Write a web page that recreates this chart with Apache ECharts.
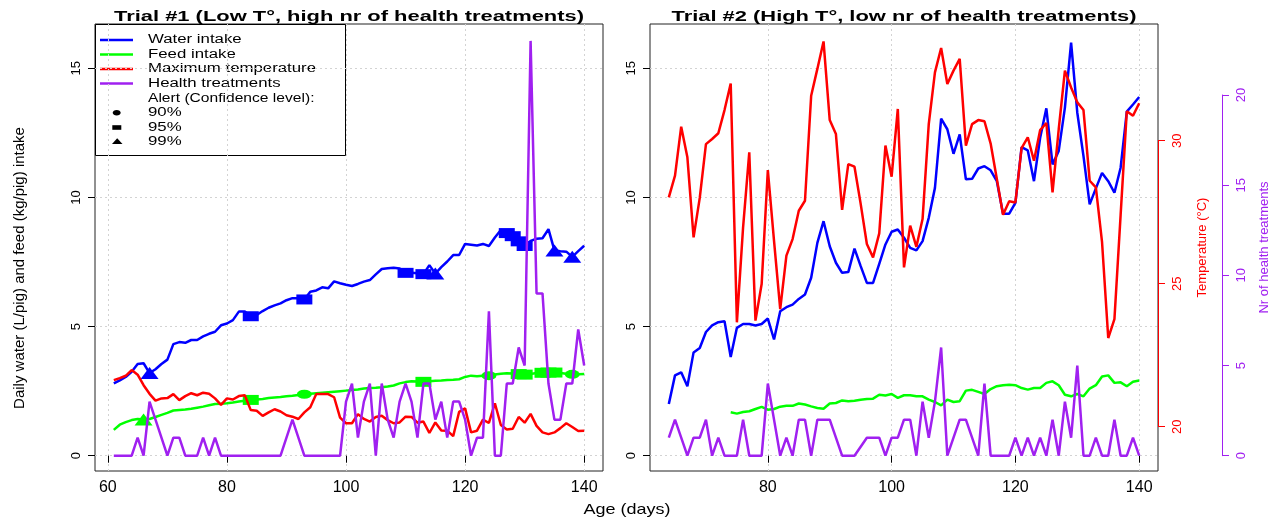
<!DOCTYPE html>
<html>
<head>
<meta charset="utf-8">
<script src="https://cdn.jsdelivr.net/npm/echarts@6/dist/echarts.min.js"></script>
<style>
html,body{margin:0;padding:0;background:#fff;}
#chart{width:1278px;height:521px;}
</style>
</head>
<body>
<div id="chart"></div>
<script>
// ---------------- DATA ----------------
const daysT1 = [61,62,63,64,65,66,67,68,69,70,
  71,72,73,74,75,76,77,78,79,80,
  81,82,83,84,85,86,87,88,89,90,
  91,92,93,94,95,96,97,98,99,100,
  101,102,103,104,105,106,107,108,109,110,
  111,112,113,114,115,116,117,118,119,120,
  121,122,123,124,125,126,127,128,129,130,
  131,132,133,134,135,136,137,138,139,140];

const waterT1 = [2.80,2.92,3.05,3.25,3.55,3.58,3.20,3.35,3.55,3.72,
  4.32,4.40,4.37,4.48,4.48,4.62,4.72,4.80,5.05,5.12,
  5.25,5.58,5.58,5.40,5.45,5.60,5.73,5.82,5.90,6.02,
  6.10,6.10,6.05,6.35,6.40,6.52,6.48,6.75,6.68,6.62,
  6.57,6.65,6.74,6.80,7.02,7.23,7.26,7.28,7.25,7.08,
  7.08,7.06,7.03,7.38,7.05,7.30,7.52,7.77,7.77,8.20,
  8.17,8.14,8.20,8.12,8.45,8.74,8.62,8.50,8.30,8.12,
  8.32,8.40,8.42,8.77,7.95,7.92,7.90,7.70,7.92,8.13];

const feedT1 = [1.00,1.20,1.30,1.38,1.42,1.40,1.42,1.50,1.58,1.66,
  1.75,1.77,1.79,1.82,1.86,1.90,1.95,2.00,2.01,2.03,
  2.06,2.10,2.13,2.16,2.18,2.20,2.23,2.25,2.27,2.30,
  2.32,2.35,2.38,2.40,2.42,2.44,2.46,2.48,2.50,2.52,
  2.54,2.56,2.60,2.62,2.63,2.65,2.68,2.72,2.80,2.85,
  2.88,2.87,2.86,2.88,2.90,2.91,2.93,2.94,2.96,3.05,
  3.10,3.08,3.10,3.10,3.14,3.17,3.19,3.18,3.16,3.14,
  3.16,3.20,3.21,3.22,3.22,3.20,3.17,3.15,3.15,3.16];

const tempT1 = [21.63,21.70,21.78,21.98,21.82,21.45,21.15,20.91,20.99,21.00,
  21.14,20.93,21.07,21.17,21.10,21.19,21.15,20.99,20.76,20.99,
  20.95,21.07,21.10,20.58,20.56,20.38,20.50,20.61,20.53,20.40,
  20.35,20.27,20.50,20.68,21.14,21.14,21.14,21.03,20.32,20.12,
  20.12,20.44,20.27,20.18,20.34,20.38,20.23,20.12,20.15,20.35,
  20.34,20.14,20.18,19.78,20.15,19.87,19.86,19.67,20.52,20.64,
  19.80,19.86,20.25,20.13,20.82,20.06,19.90,19.93,20.34,20.14,
  20.45,20.03,19.80,19.74,19.80,19.95,20.12,19.99,19.85,19.86];

const healthT1 = [0,0,0,0,1,0,3,2,1,0,
  1,1,0,0,0,1,0,1,0,0,
  0,0,0,0,0,0,0,0,0,1,
  2,1,0,0,0,0,0,0,0,3,
  4,1,3,4,0,4,2,1,3,4,
  3,1,4,4,2,3,1,3,3,2,
  0,1,1,8,0,0,4,4,6,5,
  23,9,9,4,2,2,4,4,7,5];

// Alert days (confidence level) for trial #1
const waterAlert95 = [84,93,110,113,127,128,129,130];
const waterAlert99 = [67,115,135,138];
const feedAlert90 = [93,124,138];
const feedAlert95 = [84,113,129,130,133,134,135];
const feedAlert99 = [66];

const daysT2 = [64,65,66,67,68,69,70,
  71,72,73,74,75,76,77,78,79,80,
  81,82,83,84,85,86,87,88,89,90,
  91,92,93,94,95,96,97,98,99,100,
  101,102,103,104,105,106,107,108,109,110,
  111,112,113,114,115,116,117,118,119,120,
  121,122,123,124,125,126,127,128,129,130,
  131,132,133,134,135,136,137,138,139,140];

const waterT2 = [2.00,3.11,3.23,2.69,4.00,4.17,4.79,
  5.05,5.17,5.21,3.82,4.95,5.10,5.10,5.04,5.10,5.31,
  4.50,5.59,5.75,5.85,6.07,6.24,6.89,8.24,9.08,8.11,
  7.47,7.08,7.11,8.02,7.34,6.69,6.69,7.43,8.18,8.67,
  8.76,8.44,8.05,7.95,8.31,9.21,10.37,13.05,12.64,11.69,
  12.44,10.70,10.72,11.12,11.21,11.05,10.63,9.37,9.37,9.79,
  11.95,11.82,10.63,12.31,13.45,11.28,11.80,13.48,15.99,13.28,
  11.60,9.73,10.35,10.95,10.63,10.18,11.15,13.32,13.60,13.89];

const feedT2 = [null,null,null,null,null,null,null,
  null,null,null,1.68,1.63,1.69,1.72,1.81,1.89,1.78,
  1.81,1.90,1.93,1.93,2.02,1.98,1.91,1.85,1.82,2.02,
  2.04,2.14,2.11,2.13,2.17,2.20,2.21,2.36,2.33,2.39,
  2.24,2.34,2.34,2.30,2.30,2.17,2.08,1.95,2.17,2.08,
  2.11,2.52,2.55,2.47,2.39,2.58,2.69,2.73,2.75,2.73,
  2.62,2.56,2.62,2.62,2.82,2.88,2.73,2.36,2.30,2.39,
  2.30,2.60,2.73,3.07,3.11,2.82,2.84,2.69,2.86,2.91];

const tempT2 = [28.02,28.78,30.49,29.42,26.62,28.00,29.88,
  30.06,30.26,31.07,32.00,23.65,26.97,29.59,23.71,24.99,28.97,
  26.50,24.11,25.98,26.56,27.55,27.90,31.57,32.51,33.47,30.72,
  30.23,27.58,29.18,29.09,27.79,26.39,25.92,26.76,29.83,28.74,
  31.11,25.57,27.03,26.29,27.26,30.58,32.39,33.24,31.98,32.45,
  32.86,29.83,30.58,30.72,30.68,29.90,28.66,27.41,27.88,27.84,
  29.74,30.12,29.30,30.37,30.62,28.19,30.40,32.45,31.86,31.34,
  31.07,28.60,28.37,26.45,23.10,23.76,27.40,31.03,30.87,31.31];

const healthT2 = [1,2,1,0,1,1,2,
  0,1,0,0,0,2,0,0,0,4,
  2,0,1,0,2,2,0,2,2,2,
  1,0,0,0,0.5,1,1,1,0,1,
  1,2,2,0,3,1,3,6,0,1,
  2,2,1,0,4,0,0,0,0,1,
  0,1,0,1,0,2,0,3,1,5,
  0,0,1,0,0,2,0,0,1,0];

const xTicksT1 = [60,80,100,120,140];
const xTicksT2 = [80,100,120,140];
const yTicksIntake = [0,5,10,15];

const titles = ['Trial #1 (Low T\u00b0, high nr of health treatments)',
                'Trial #2 (High T\u00b0, low nr of health treatments)'];
const legendLines = ['Water intake','Feed intake','Maximum temperature','Health treatments'];
const legendAlert = ['Alert (Confidence level):','90%','95%','99%'];

// ---------------- STYLE ----------------
const FONT = '"Liberation Sans", Arial, Helvetica, sans-serif';
const C_WATER = '#0000ff', C_FEED = '#00ff00', C_TEMP = '#ff0000', C_HEALTH = '#a020f0';
const LW = 2.5;

function pairs(days, vals){ return days.map((d,i)=>[d, vals[i]]); }
function alertPts(days, vals, alertDays){ return alertDays.map(d=>[d, vals[days.indexOf(d)]]); }

function lineSeries(name, xi, yi, days, vals, color){
  return {name, type:'line', xAxisIndex:xi, yAxisIndex:yi, data:pairs(days, vals),
    symbol:'none', showSymbol:false, connectNulls:false,
    lineStyle:{color, width:LW}, itemStyle:{color}, silent:true};
}
function markerSeries(name, days, vals, alertDays, symbol, size, color){
  return {name, type:'scatter', xAxisIndex:0, yAxisIndex:0,
    data:alertPts(days, vals, alertDays), symbol, symbolSize:size,
    itemStyle:{color, opacity:1}, silent:true};
}

const gridLine = {show:true, lineStyle:{color:'#d3d3d3', type:[2,3], width:1}};
const tickStyle = {show:true, length:7, lineStyle:{color:'#000', width:1}};

function xAxisVisible(grid, min, max, ticks){
  return {gridIndex:grid, type:'value', min, max,
    axisLine:{show:false},
    axisTick:Object.assign({customValues:ticks}, tickStyle),
    axisLabel:{customValues:ticks, fontSize:16, color:'#000', margin:9, fontFamily:FONT},
    splitLine:gridLine};
}
function yAxisIntake(grid){
  return {gridIndex:grid, type:'value', min:-0.592, max:16.715,
    axisLine:{show:false, onZero:false},
    axisTick:Object.assign({customValues:yTicksIntake}, tickStyle),
    axisLabel:{customValues:yTicksIntake, rotate:90, fontSize:13, color:'#000', margin:12, fontFamily:FONT},
    splitLine:gridLine};
}
const TEMP_MIN = 18.451, TEMP_MAX = 34.08;
const HEALTH_MIN = -0.848, HEALTH_MAX = 23.937;

const gridBase = {top:24, height:447, show:true, borderColor:'#222', borderWidth:1, backgroundColor:'transparent', containLabel:false, outerBoundsMode:'none'};

const option = {
  animation:false,
  backgroundColor:'#fff',
  textStyle:{fontFamily:FONT},
  grid:[
    Object.assign({left:95, width:508}, gridBase),
    Object.assign({left:650, width:508}, gridBase),
    {left:650, right:120, top:140.7, height:286, show:false, containLabel:false, outerBoundsMode:'none'},
    {left:650, right:56, top:95, height:360.7, show:false, containLabel:false, outerBoundsMode:'none'}
  ],
  xAxis:[
    xAxisVisible(0, 57.84, 143.16, xTicksT1),
    xAxisVisible(1, 60.96, 143.04, xTicksT2),
    {gridIndex:2, type:'value', show:false, min:0, max:1},
    {gridIndex:3, type:'value', show:false, min:0, max:1}
  ],
  yAxis:[
    yAxisIntake(0),
    {gridIndex:0, type:'value', show:false, min:TEMP_MIN, max:TEMP_MAX},
    {gridIndex:0, type:'value', show:false, min:HEALTH_MIN, max:HEALTH_MAX},
    yAxisIntake(1),
    {gridIndex:1, type:'value', position:'right', min:TEMP_MIN, max:TEMP_MAX,
      axisLine:{show:false, onZero:false}, axisTick:{show:false}, axisLabel:{show:false}, splitLine:{show:false},
      name:'Temperature (\u00b0C)', nameLocation:'middle', nameGap:38,
      nameTextStyle:{color:C_TEMP, fontSize:13, fontFamily:FONT}},
    {gridIndex:1, type:'value', position:'right', offset:64, min:HEALTH_MIN, max:HEALTH_MAX,
      axisLine:{show:false, onZero:false}, axisTick:{show:false}, axisLabel:{show:false}, splitLine:{show:false},
      name:'Nr of health treatments', nameLocation:'middle', nameGap:36,
      nameTextStyle:{color:C_HEALTH, fontSize:13, fontFamily:FONT}},
    {gridIndex:2, type:'value', position:'right', min:20, max:30, interval:5,
      axisLine:{show:true, onZero:false, lineStyle:{color:C_TEMP, width:1}},
      axisTick:{show:true, length:7, lineStyle:{color:C_TEMP, width:1}},
      axisLabel:{rotate:90, color:C_TEMP, fontSize:13, margin:13, fontFamily:FONT},
      splitLine:{show:false}},
    {gridIndex:3, type:'value', position:'right', min:0, max:20, interval:5,
      axisLine:{show:true, onZero:false, lineStyle:{color:C_HEALTH, width:1}},
      axisTick:{show:true, length:7, lineStyle:{color:C_HEALTH, width:1}},
      axisLabel:{rotate:90, color:C_HEALTH, fontSize:13, margin:13, fontFamily:FONT},
      splitLine:{show:false}}
  ],
  series:[
    lineSeries('Water intake T1', 0, 0, daysT1, waterT1, C_WATER),
    markerSeries('Water alert 95%', daysT1, waterT1, waterAlert95, 'rect', [16,10], C_WATER),
    markerSeries('Water alert 99%', daysT1, waterT1, waterAlert99, 'triangle', [18,12], C_WATER),
    lineSeries('Feed intake T1', 0, 0, daysT1, feedT1, C_FEED),
    markerSeries('Feed alert 90%', daysT1, feedT1, feedAlert90, 'circle', [15,9], C_FEED),
    markerSeries('Feed alert 95%', daysT1, feedT1, feedAlert95, 'rect', [16,10], C_FEED),
    markerSeries('Feed alert 99%', daysT1, feedT1, feedAlert99, 'triangle', [18,12], C_FEED),
    lineSeries('Max temperature T1', 0, 1, daysT1, tempT1, C_TEMP),
    lineSeries('Health treatments T1', 0, 2, daysT1, healthT1, C_HEALTH),
    lineSeries('Water intake T2', 1, 3, daysT2, waterT2, C_WATER),
    lineSeries('Feed intake T2', 1, 3, daysT2, feedT2, C_FEED),
    lineSeries('Max temperature T2', 1, 4, daysT2, tempT2, C_TEMP),
    lineSeries('Health treatments T2', 1, 5, daysT2, healthT2, C_HEALTH)
  ],
  graphic:[
    {type:'text', x:349, y:17, scaleX:1.46, z:100,
      style:{text:titles[0], font:'bold 15px '+FONT, textAlign:'center', textVerticalAlign:'middle', fill:'#000'}},
    {type:'text', x:904, y:17, scaleX:1.46, z:100,
      style:{text:titles[1], font:'bold 15px '+FONT, textAlign:'center', textVerticalAlign:'middle', fill:'#000'}},
    {type:'text', x:20, y:268, rotation:Math.PI/2, z:100,
      style:{text:'Daily water (L/pig) and feed (kg/pig) intake', font:'15px '+FONT, textAlign:'center', textVerticalAlign:'middle', fill:'#000'}},
    {type:'text', x:627, y:510, scaleX:1.2, z:100,
      style:{text:'Age (days)', font:'15px '+FONT, textAlign:'center', textVerticalAlign:'middle', fill:'#000'}},
    // legend
    {type:'group', z:90, children:[
      {type:'rect', shape:{x:95.5, y:24.5, width:250, height:131}, style:{fill:'#fff', stroke:'#000', lineWidth:1}},
      {type:'line', shape:{x1:100, y1:40, x2:133, y2:40}, style:{stroke:C_WATER, lineWidth:LW}},
      {type:'line', shape:{x1:100, y1:54.5, x2:133, y2:54.5}, style:{stroke:C_FEED, lineWidth:LW}},
      {type:'line', shape:{x1:100, y1:69, x2:133, y2:69}, style:{stroke:C_TEMP, lineWidth:LW}},
      {type:'line', shape:{x1:100, y1:83.5, x2:133, y2:83.5}, style:{stroke:C_HEALTH, lineWidth:LW}},
      {type:'ellipse', shape:{cx:116.7, cy:112.7, rx:4, ry:2.7}, style:{fill:'#000'}},
      {type:'rect', shape:{x:112.3, y:125.2, width:9, height:4.6}, style:{fill:'#000'}},
      {type:'polygon', shape:{points:[[112,144],[122.5,144],[117.2,138.3]]}, style:{fill:'#000'}},
      {type:'text', x:148, y:40, scaleX:1.4, style:{text:legendLines[0], font:'12px '+FONT, textAlign:'left', textVerticalAlign:'middle', fill:'#000'}},
      {type:'text', x:148, y:54.5, scaleX:1.4, style:{text:legendLines[1], font:'12px '+FONT, textAlign:'left', textVerticalAlign:'middle', fill:'#000'}},
      {type:'text', x:148, y:69, scaleX:1.4, style:{text:legendLines[2], font:'12px '+FONT, textAlign:'left', textVerticalAlign:'middle', fill:'#000'}},
      {type:'text', x:148, y:83.5, scaleX:1.4, style:{text:legendLines[3], font:'12px '+FONT, textAlign:'left', textVerticalAlign:'middle', fill:'#000'}},
      {type:'text', x:148, y:98.5, scaleX:1.3, style:{text:legendAlert[0], font:'12px '+FONT, textAlign:'left', textVerticalAlign:'middle', fill:'#000'}},
      {type:'text', x:148, y:113, scaleX:1.4, style:{text:legendAlert[1], font:'12px '+FONT, textAlign:'left', textVerticalAlign:'middle', fill:'#000'}},
      {type:'text', x:148, y:127.5, scaleX:1.4, style:{text:legendAlert[2], font:'12px '+FONT, textAlign:'left', textVerticalAlign:'middle', fill:'#000'}},
      {type:'text', x:148, y:141.5, scaleX:1.4, style:{text:legendAlert[3], font:'12px '+FONT, textAlign:'left', textVerticalAlign:'middle', fill:'#000'}}
    ]}
  ]
};

const chart = echarts.init(document.getElementById('chart'), null, {renderer:'canvas'});
chart.setOption(option);
</script>
</body>
</html>
